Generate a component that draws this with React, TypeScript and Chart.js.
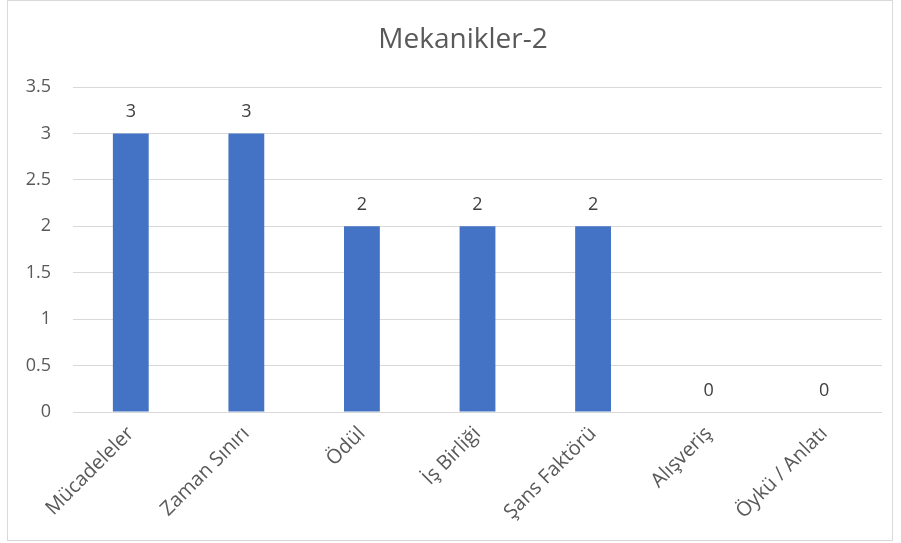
import React, { useEffect, useRef } from "react";
import { Chart, registerables } from "chart.js";

Chart.register(...registerables);

const categories = ["Mücadeleler", "Zaman Sınırı", "Ödül", "İş Birliği", "Şans Faktörü", "Alışveriş", "Öykü / Anlatı"];
const values = [3, 3, 2, 2, 2, 0, 0];
const chartTitle = "Mekanikler-2";

const FONT = "'Open Sans', 'Noto Sans', sans-serif";

const valueLabels = {
  id: "valueLabels",
  afterDatasetsDraw(chart: any) {
    const ctx = chart.ctx;
    const meta = chart.getDatasetMeta(0);
    ctx.save();
    ctx.fillStyle = "#404040";
    ctx.font = `18px ${FONT}`;
    ctx.textAlign = "center";
    ctx.textBaseline = "alphabetic";
    meta.data.forEach((bar: any, i: number) => {
      ctx.fillText(String(values[i]), bar.x, bar.y - 16);
    });
    ctx.restore();
  },
};

const titleDraw = {
  id: "titleDraw",
  afterDraw(chart: any) {
    const ctx = chart.ctx;
    ctx.save();
    ctx.fillStyle = "#595959";
    ctx.font = `28px ${FONT}`;
    ctx.textAlign = "center";
    ctx.textBaseline = "middle";
    ctx.fillText(chartTitle, 455, 39);
    ctx.restore();
  },
};

export default function App() {
  const ref = useRef<HTMLCanvasElement | null>(null);
  useEffect(() => {
    if (!ref.current) return;
    const chart = new Chart(ref.current, {
      type: "bar",
      data: {
        labels: categories,
        datasets: [
          {
            data: values,
            backgroundColor: "#4472C4",
            barPercentage: 0.31,
            categoryPercentage: 1,
          },
        ],
      },
      options: {
        animation: false,
        responsive: false,
        devicePixelRatio: 1,
        layout: { padding: { left: 0, right: 10, top: 86, bottom: 0 } },
        plugins: {
          legend: { display: false },
          tooltip: { enabled: false },
          title: { display: false },
        },
        scales: {
          x: {
            grid: { display: false, drawTicks: false },
            border: { display: false },
            afterFit(scale: any) {
              scale.height = 128;
            },
            ticks: {
              color: "#595959",
              font: { family: FONT, size: 20 },
              minRotation: 45,
              maxRotation: 45,
              padding: 10,
              autoSkip: false,
            },
          },
          y: {
            min: 0,
            max: 3.5,
            afterFit(scale: any) {
              scale.width = 65;
            },
            ticks: {
              stepSize: 0.5,
              color: "#595959",
              font: { family: FONT, size: 18 },
              padding: 22,
              callback: (v: any) => String(v),
            },
            grid: { color: "#d9d9d9", drawTicks: false, lineWidth: 1 },
            border: { display: false },
          },
        },
      },
      plugins: [valueLabels, titleDraw],
    });
    return () => chart.destroy();
  }, []);
  return (
    <div
      style={{
        position: "absolute",
        left: 7,
        top: 0,
        width: 886,
        height: 541,
        border: "1px solid #d9d9d9",
        boxSizing: "border-box",
        background: "#fff",
      }}
    >
      <canvas ref={ref} width={884} height={539} style={{ display: "block" }} />
    </div>
  );
}
